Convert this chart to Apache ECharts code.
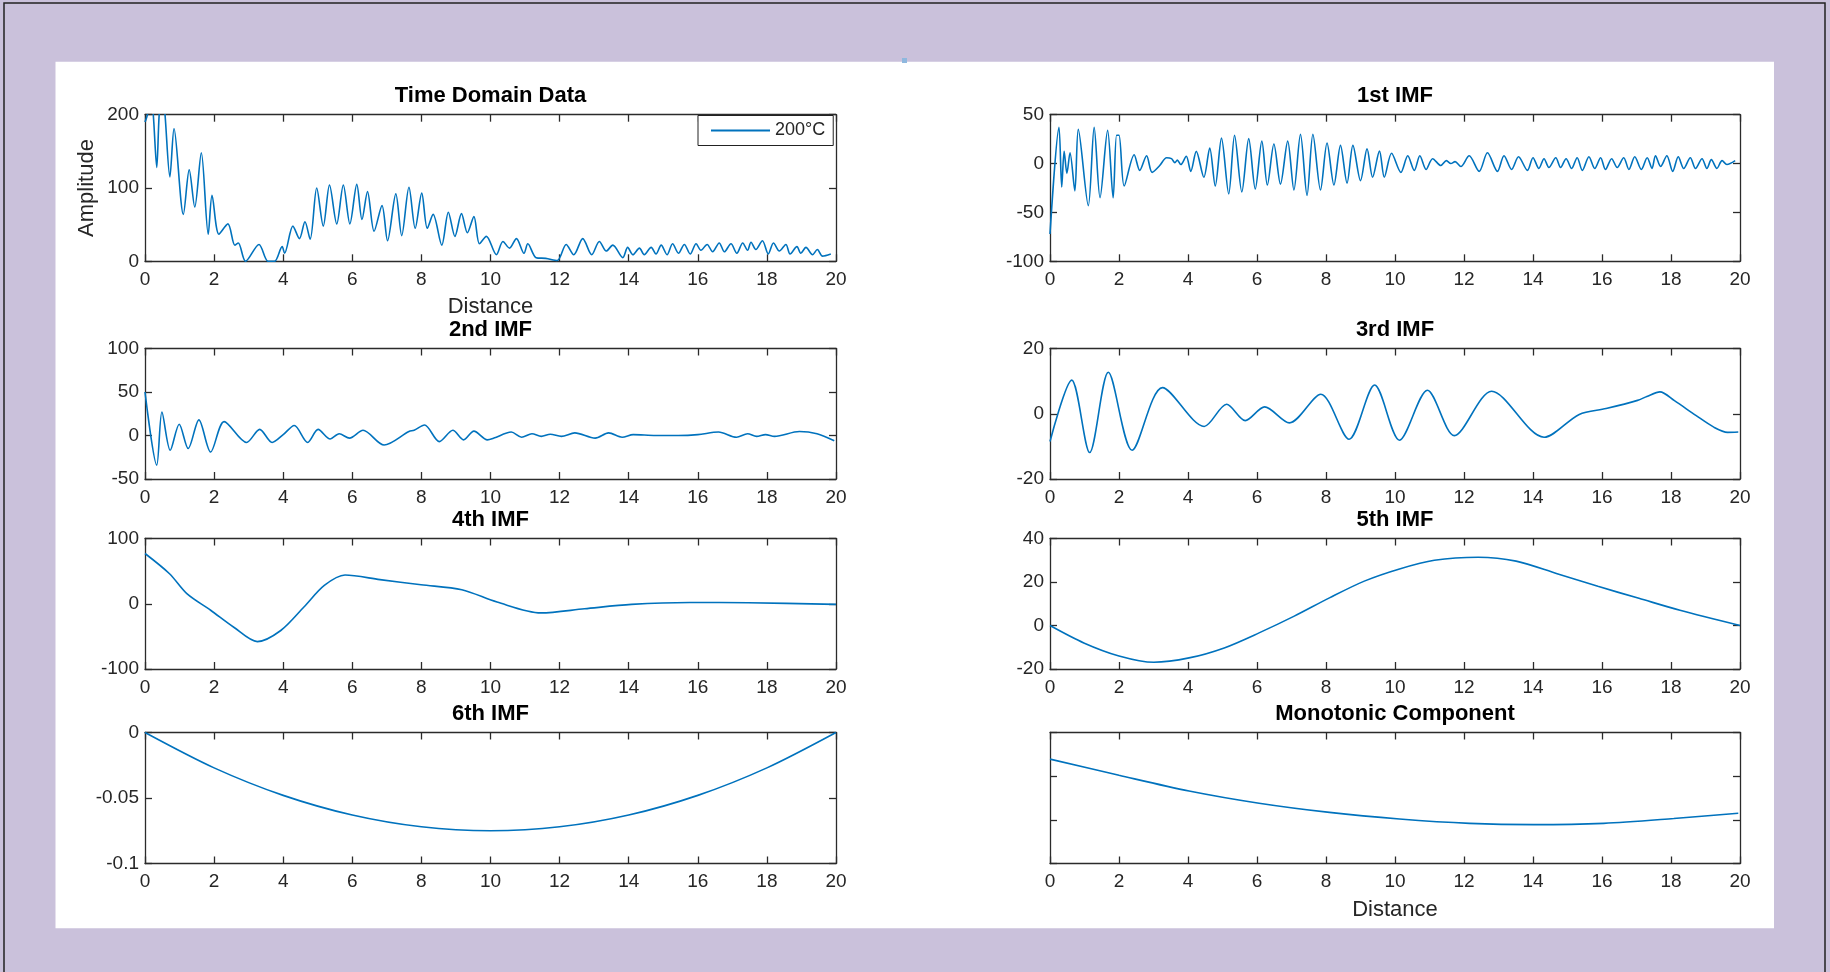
<!DOCTYPE html>
<html>
<head>
<meta charset="utf-8">
<title>Time Domain Data and IMFs</title>
<script src="https://cdn.jsdelivr.net/npm/echarts@6/dist/echarts.min.js"></script>
<style>
html, body { margin: 0; padding: 0; background: #cac1db; }
#main { width: 1830px; height: 972px; }
</style>
</head>
<body>
<div id="main"></div>
<script>
var panelTitles = ['Time Domain Data', '1st IMF', '2nd IMF', '3rd IMF', '4th IMF', '5th IMF', '6th IMF', 'Monotonic Component'];
var yMin = [0, -100, -50, -20, -100, -20, -0.1, 0];
var yMax = [200, 50, 100, 20, 100, 40, 0, 3];
var yStep = [100, 50, 50, 20, 100, 20, 0.05, 1];
var distMin = 0, distMax = 20, distStep = 2;
var legendName = '200°C';

// [distance, value]
var timeDomain = [[0,190],[0.07,200],[0.15,240],[0.24,200],[0.34,128],[0.41,200],[0.5,240],[0.58,200],[0.72,115],[0.84,181],
  [1.11,64],[1.28,125],[1.44,74],[1.63,148],[1.83,37],[1.94,90],[2.14,37],[2.4,51],[2.6,22],[2.7,25],[2.91,0],[3.3,23],
  [3.56,0],[3.75,0],[3.97,20],[4.04,11],[4.28,48],[4.47,31],[4.63,54],[4.78,30],[4.97,100],[5.16,48],[5.34,104],[5.55,51],
  [5.74,104],[5.93,51],[6.13,105],[6.28,57],[6.44,95],[6.63,41],[6.86,76],[7.02,28],[7.26,92],[7.43,35],[7.64,101],[7.82,45],
  [8.01,93],[8.17,45],[8.34,64],[8.59,22],[8.78,67],[8.97,34],[9.16,65],[9.33,39],[9.52,61],[9.68,24],[9.88,34],[10.17,9],
  [10.36,27],[10.55,18],[10.75,31],[10.97,11],[11.08,24],[11.32,5],[11.6,4],[11.93,1],[12.19,23],[12.41,9],[12.67,31],[12.93,9],
  [13.15,27],[13.35,14],[13.54,22],[13.83,5],[13.97,19],[14.12,9],[14.31,18],[14.45,9],[14.65,19],[14.79,10],[14.94,22],[15.11,9],
  [15.27,24],[15.44,11],[15.61,23],[15.78,10],[15.95,24],[16.09,15],[16.27,23],[16.43,13],[16.62,25],[16.77,13],[16.96,24],[17.13,11],
  [17.3,25],[17.44,15],[17.54,26],[17.68,16],[17.87,28],[18.04,10],[18.19,25],[18.36,14],[18.55,23],[18.67,10],[18.87,20],[18.98,11],
  [19.13,19],[19.32,9],[19.46,16],[19.61,7],[19.85,10]];

var imf1 = [[0,-72],[0.26,37],[0.34,-24],[0.41,12.5],[0.49,-10],[0.58,11],[0.72,-28],[0.82,35],[1.11,-43],[1.28,37],[1.45,-35],
  [1.67,34],[1.83,-35],[1.93,29],[2.0,29],[2.15,-23],[2.44,9],[2.6,-7],[2.8,8],[2.96,-9],[3.18,-2],[3.38,6],[3.52,5],[3.62,1],
  [3.69,3.5],[3.79,-1],[3.95,7.5],[4.08,-8],[4.24,12.5],[4.46,-14],[4.63,16],[4.79,-23],[4.97,26],[5.18,-31],[5.35,29],[5.56,-29],
  [5.76,25.5],[5.95,-26],[6.14,23],[6.3,-22],[6.49,20],[6.68,-21],[6.89,23],[7.07,-27],[7.26,30],[7.45,-32.5],[7.62,30],[7.84,-27],
  [8.03,21],[8.23,-22],[8.42,18.6],[8.61,-20],[8.78,18.6],[9.0,-17.5],[9.19,15],[9.35,-14],[9.55,12.7],[9.69,-14],[9.9,10.5],
  [10.17,-9],[10.37,8],[10.56,-7],[10.72,8],[10.9,-6],[11.09,5],[11.33,-2],[11.49,3],[11.62,0],[11.74,2],[11.91,-3],[12.15,8],
  [12.44,-8],[12.68,11],[12.97,-8],[13.16,8],[13.38,-6],[13.58,7],[13.84,-7],[14.0,6],[14.17,-5],[14.32,5],[14.46,-4],[14.66,6],
  [14.8,-4],[14.96,5],[15.12,-5],[15.28,6],[15.43,-7],[15.62,7],[15.79,-5],[15.96,6],[16.1,-6],[16.28,5],[16.44,-4],[16.63,6],
  [16.78,-6],[16.95,7],[17.14,-6],[17.31,6],[17.45,-5],[17.55,8],[17.7,-3],[17.88,8],[18.05,-8],[18.21,7],[18.37,-5],[18.56,6],
  [18.71,-5],[18.9,5],[19.04,-5],[19.17,4],[19.33,-5],[19.48,3],[19.62,-1],[19.86,3]];

var imf2 = [[0,50],[0.34,-34],[0.49,27],[0.73,-17],[0.99,13],[1.25,-15],[1.56,18],[1.9,-19],[2.29,16],[2.94,-8],[3.32,7],
  [3.68,-8],[4.0,1],[4.32,11.5],[4.71,-8],[5.01,7],[5.36,-4],[5.62,2],[5.92,-3],[6.31,6],[6.92,-11],[7.64,4.6],[7.79,6],
  [8.09,12],[8.52,-7],[8.91,6],[9.22,-5],[9.52,5],[9.91,-5],[10.1,-3],[10.6,4],[10.9,-2],[11.2,2],[11.47,-1],[11.73,1.5],
  [12.05,-1],[12.44,3],[13.03,-3],[13.42,3],[13.81,-2],[14.13,1],[14.78,0],[15.43,0],[16.0,1],[16.6,4],[17.12,-2],[17.44,2],
  [17.7,-1],[17.96,1],[18.22,-1],[18.94,4.6],[19.45,2],[19.95,-6]];

var imf3 = [[0,-8.5],[0.63,10.3],[1.15,-11.9],[1.69,12.7],[2.38,-11.2],[3.26,8],[4.47,-3.9],[5.12,2.9],[5.66,-2.1],[6.22,2.1],
  [6.94,-2.8],[7.85,6],[8.67,-7.8],[9.41,8.8],[10.13,-8.1],[10.94,7.2],[11.72,-6.7],[12.8,6.9],[14.32,-7.2],[15.34,-0.2],
  [16.12,1.6],[17.03,4.1],[17.3,5.3],[17.68,6.7],[18.1,4.0],[18.72,-0.5],[19.24,-4.1],[19.64,-5.7],[19.95,-5.6]];

var imf4 = [[0,77],[0.71,46],[1.22,15],[1.9,-10],[2.57,-36],[3.25,-58],[3.93,-41],[4.6,-5],[5.19,28],[5.79,44],[6.8,37],
  [7.99,29],[9.17,21.5],[10.19,2.6],[11.46,-14],[12.72,-7.7],[14.08,-1],[15.77,2],[17.46,1.5],[20,-1]];

var imf5 = [[0,0],[0.98,-8],[2.0,-14],[3.01,-16.9],[4.03,-14.9],[5.05,-10.3],[6.06,-3.4],[7.08,4.3],[8.1,12.7],[9.11,20.4],
  [10.13,26],[11.14,30],[12.41,31.4],[13.51,29.6],[14.7,23.8],[15.88,18],[17.07,12.5],[18.26,7],[20,0]];

var imf6 = [[0,0],[2,-0.027],[4,-0.048],[6,-0.063],[8,-0.072],[10,-0.075],[12,-0.072],[14,-0.063],
  [16,-0.048],[18,-0.027],[20,0]];

var monotonic = [[0,2.39],[2,2.02],[4.03,1.66],[6.06,1.38],[8.1,1.17],[10.13,1.02],[12.16,0.92],[14.02,0.89],[16.05,0.92],
  [18.08,1.03],[19.95,1.15]];

var panelData = [timeDomain, imf1, imf2, imf3, imf4, imf5, imf6, monotonic];

var chart = echarts.init(document.getElementById('main'));

var FONT = '"Liberation Sans", Arial, sans-serif';
var AXIS_COLOR = '#2b2b2b';
var LINE_COLOR = '#0072bd';

var colLeft = [145, 1050];
var colWidth = [691, 690];
var rowTop = [114.7, 348.5, 538.5, 732.5];
var rowHeight = [146.6, 130.5, 130.5, 131];

var grids = [], xAxes = [], yAxes = [], series = [], graphics = [];

graphics.push({
  type: 'rect', z: -10, silent: true,
  shape: { x: 4, y: 3, width: 1821, height: 990 },
  style: { fill: '#cac1db', stroke: '#222', lineWidth: 1.5 }
});
graphics.push({
  type: 'rect', z: -9, silent: true,
  shape: { x: 55.5, y: 61.7, width: 1718.5, height: 866.6 },
  style: { fill: '#fff' }
});
// small stray mark at the top edge of the figure
graphics.push({
  type: 'rect', z: -8, silent: true,
  shape: { x: 902, y: 58, width: 5, height: 5 },
  style: { fill: '#8fb8de' }
});

function baseAxis(gi, pos, labels) {
  return {
    type: 'value', gridIndex: gi, position: pos,
    axisLine: { show: true, onZero: false, lineStyle: { color: AXIS_COLOR, width: 1.3 } },
    axisTick: { show: true, inside: true, length: 7, lineStyle: { color: AXIS_COLOR, width: 1.3 } },
    axisLabel: { show: labels, color: '#262626', fontSize: 19, fontFamily: FONT },
    splitLine: { show: false }
  };
}

for (var i = 0; i < 8; i++) {
  var col = i % 2, row = Math.floor(i / 2);
  grids.push({ left: colLeft[col], top: rowTop[row], width: colWidth[col], height: rowHeight[row] });

  var xb = baseAxis(i, 'bottom', true);
  xb.min = distMin; xb.max = distMax; xb.interval = distStep;
  xb.axisLabel.margin = 9;
  if (i === 0 || i === 7) {
    xb.name = 'Distance';
    xb.nameLocation = 'middle';
    xb.nameGap = 35;
    xb.nameTextStyle = { fontSize: 22, color: '#262626', fontFamily: FONT };
  }
  var xt = baseAxis(i, 'top', false);
  xt.min = distMin; xt.max = distMax; xt.interval = distStep;
  xAxes.push(xb, xt);

  var yl = baseAxis(i, 'left', i !== 7);
  yl.min = yMin[i]; yl.max = yMax[i]; yl.interval = yStep[i];
  yl.axisLabel.margin = 6;
  if (i === 0) {
    yl.name = 'Amplitude';
    yl.nameLocation = 'middle';
    yl.nameGap = 47;
    yl.nameTextStyle = { fontSize: 22, color: '#262626', fontFamily: FONT };
  }
  var yr = baseAxis(i, 'right', false);
  yr.min = yMin[i]; yr.max = yMax[i]; yr.interval = yStep[i];
  yAxes.push(yl, yr);

  series.push({
    name: i === 0 ? legendName : panelTitles[i],
    type: 'line',
    xAxisIndex: 2 * i, yAxisIndex: 2 * i,
    data: panelData[i],
    showSymbol: false,
    smooth: 0.3,
    clip: true,
    lineStyle: { color: LINE_COLOR, width: 1.6 },
    itemStyle: { color: LINE_COLOR }
  });

  graphics.push({
    type: 'text', silent: true,
    x: colLeft[col] + colWidth[col] / 2,
    y: rowTop[row] - 19,
    style: {
      text: panelTitles[i], fill: '#000',
      font: 'bold 22px ' + FONT,
      align: 'center', verticalAlign: 'middle',
      textAlign: 'center', textVerticalAlign: 'middle'
    }
  });
}

chart.setOption({
  animation: false,
  backgroundColor: '#cac1db',
  grid: grids,
  xAxis: xAxes,
  yAxis: yAxes,
  series: series,
  legend: {
    data: [legendName],
    left: 698, top: 115.5,
    orient: 'vertical',
    padding: [6, 8, 6, 13],
    backgroundColor: '#fff',
    borderColor: '#222', borderWidth: 1,
    icon: 'rect', itemWidth: 59, itemHeight: 2,
    itemGap: 0,
    textStyle: { fontSize: 18, color: '#262626', fontFamily: FONT }
  },
  graphic: graphics
});
</script>
</body>
</html>
